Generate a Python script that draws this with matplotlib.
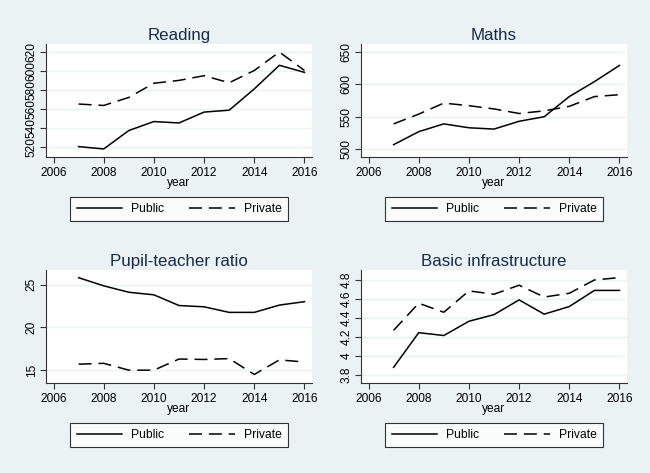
import matplotlib.pyplot as plt
import numpy as np

plt.rcParams['font.family'] = ['Liberation Sans', 'DejaVu Sans']

years = [2007, 2008, 2009, 2010, 2011, 2012, 2013, 2014, 2015, 2016]

reading_public = [520, 517.5, 537, 546.5, 545, 556.5, 558.5, 581, 606, 598.5]
reading_private = [565, 563.5, 572, 587, 590, 595, 587.5, 600.5, 620, 600.5]

maths_public = [507, 527, 539, 533, 531, 543, 550, 581, 604, 629]
maths_private = [539, 554, 571, 567, 562, 555, 559, 566, 581, 584]

ptr_public = [25.8, 24.85, 24.1, 23.8, 22.55, 22.4, 21.75, 21.75, 22.6, 23.0]
ptr_private = [15.7, 15.8, 15.0, 15.0, 16.3, 16.25, 16.35, 14.5, 16.2, 15.95]

infra_public = [3.88, 4.245, 4.215, 4.365, 4.435, 4.59, 4.44, 4.52, 4.69, 4.69]
infra_private = [4.27, 4.555, 4.46, 4.685, 4.65, 4.745, 4.62, 4.66, 4.8, 4.825]

x_ticks = [2006, 2008, 2010, 2012, 2014, 2016]

BG = '#eaf2f3'
AXCOL = '#333333'
TITLECOL = '#1a2a4a'

W, H = 650, 473
fig = plt.figure(figsize=(6.5, 4.73), dpi=100, facecolor=BG)

panels = [
    ("Reading", reading_public, reading_private, [520, 540, 560, 580, 600, 620], (509, 628.5), (46, 44, 312, 157)),
    ("Maths", maths_public, maths_private, [500, 550, 600, 650], (488, 662), (361, 44, 627, 157)),
    ("Pupil-teacher ratio", ptr_public, ptr_private, [15, 20, 25], (13.5, 26.7), (46, 270, 312, 383)),
    ("Basic infrastructure", infra_public, infra_private, [3.8, 4.0, 4.2, 4.4, 4.6, 4.8], (3.715, 4.905), (361, 270, 627, 383)),
]

for title, pub, priv, yticks, ylim, (x0, y0, x1, y1) in panels:
    ax = fig.add_axes([x0 / W, 1 - y1 / H, (x1 - x0) / W, (y1 - y0) / H])
    ax.set_facecolor('white')
    l1, = ax.plot(years, pub, color='black', lw=1.1, label='Public')
    l2, = ax.plot(years, priv, color='black', lw=1.1, ls=(0, (8.5, 4.5)), label='Private')
    ax.set_xlim(2005.7, 2016.3)
    ax.set_ylim(*ylim)
    ax.set_xticks(x_ticks)
    ax.set_yticks(yticks)
    ax.set_yticklabels([f"{v:g}" for v in yticks], rotation=90, va='center')
    ax.tick_params(axis='both', labelsize=8.6, color=AXCOL, length=4, width=0.8, pad=2)
    ax.tick_params(axis='x', pad=3)
    ax.grid(axis='y', color=BG, lw=1.0)
    ax.set_axisbelow(True)
    for s in ['top', 'right']:
        ax.spines[s].set_visible(False)
    for s in ['left', 'bottom']:
        ax.spines[s].set_color(AXCOL)
        ax.spines[s].set_linewidth(0.8)
    ax.set_title(title, fontsize=12.2, color=TITLECOL, pad=3)
    ax.set_xlabel('year', fontsize=8.6, labelpad=-1)

    # legend box centred under the plot, below the axis title
    leg = ax.legend(handles=[l1, l2], ncol=2, loc='upper center',
                    bbox_to_anchor=((x0 + 133) / W, 1 - (y1 + 40) / H),
                    bbox_transform=fig.transFigure, borderaxespad=0,
                    fontsize=8.7, frameon=True, fancybox=False,
                    edgecolor='black', handlelength=3.8, borderpad=0.5,
                    columnspacing=2.0, handletextpad=0.75)
    leg.get_frame().set_linewidth(0.8)

fig.savefig('out.png', dpi=100, facecolor=BG)
